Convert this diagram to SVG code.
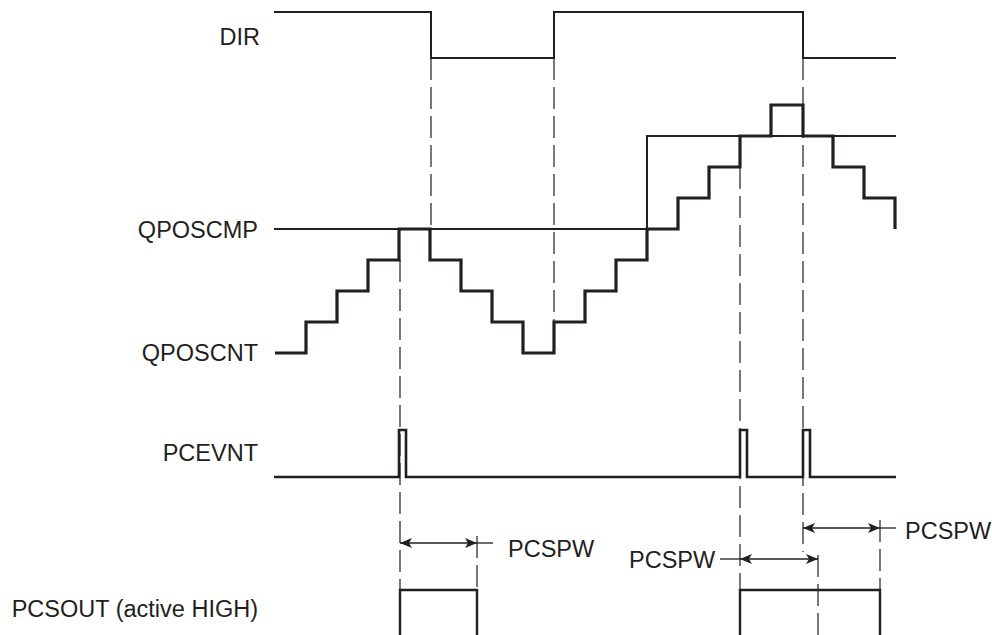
<svg xmlns="http://www.w3.org/2000/svg" width="992" height="635" viewBox="0 0 992 635">
<style>
.lbl{font-family:"Liberation Sans",Arial,sans-serif;font-size:23.5px;fill:#231f20}
.sig{fill:none;stroke:#231f20;stroke-width:2;stroke-linejoin:miter;stroke-linecap:butt}
.thick{fill:none;stroke:#231f20;stroke-width:3.2;stroke-linejoin:miter}
.dash{fill:none;stroke:#231f20;stroke-width:1.2;stroke-dasharray:22 7}
.dim{fill:none;stroke:#231f20;stroke-width:1.3}
</style>
<defs>
<marker id="ah" viewBox="0 0 12 10" refX="12" refY="5" markerWidth="12" markerHeight="10" markerUnits="userSpaceOnUse" orient="auto-start-reverse">
<path d="M0,0 L12,5 L0,10 L3,5 Z" fill="#231f20"/>
</marker>
</defs>
<rect width="992" height="635" fill="#ffffff"/>
<g id="labels">
<text class="lbl" x="260" y="45" text-anchor="end">DIR</text>
<text class="lbl" x="258" y="238" text-anchor="end">QPOSCMP</text>
<text class="lbl" x="258" y="361" text-anchor="end">QPOSCNT</text>
<text class="lbl" x="258" y="461" text-anchor="end">PCEVNT</text>
<text class="lbl" x="258" y="617" text-anchor="end">PCSOUT (active HIGH)</text>
</g>
<g id="DIR">
<polyline class="sig" points="274,12 431,12 431,58 554,58 554,12 803,12 803,58 896,58"/>
</g>
<g id="QPOSCMP">
<polyline class="sig" points="274,229 647,229 647,136 896,136"/>
</g>
<g id="QPOSCNT">
<polyline class="thick" points="275,353 306,353 306,322 337,322 337,291 368,291 368,260 399,260 399,229 430,229 430,260 461,260 461,291 492,291 492,322 523,322 523,353 554,353 554,322 585,322 585,291 616,291 616,260 647,260 647,229 678,229 678,198 709,198 709,167 740,167 740,136 771,136 771,105 803,105 803,136 833,136 833,167 864,167 864,198 895,198 895,229"/>
</g>
<g id="PCEVNT">
<polyline class="thick" style="stroke-width:2.6" points="274,477 399,477 399,430 406,430 406,477 740,477 740,430 747,430 747,477 803,477 803,430 810,430 810,477 896,477"/>
</g>
<g id="PCSOUT">
<polyline class="sig" style="stroke-width:2.4" points="400,635 400,590 477,590 477,635"/>
<polyline class="sig" style="stroke-width:2.4" points="740,635 740,590 880,590 880,635"/>
</g>
<g id="connectors">
<line class="dash" x1="431" y1="58" x2="431" y2="229"/>
<line class="dash" x1="554" y1="58" x2="554" y2="322"/>
<line class="dash" x1="400" y1="260" x2="400" y2="590"/>
<line class="dash" x1="740" y1="167" x2="740" y2="590"/>
<line class="dash" x1="803" y1="58" x2="803" y2="552"/>
<line class="dash" x1="477" y1="536" x2="477" y2="590"/>
<line class="dash" x1="818" y1="555" x2="818" y2="635"/>
<line class="dash" x1="880" y1="520" x2="880" y2="590"/>
<line class="dim" x1="400" y1="543" x2="477" y2="543" marker-start="url(#ah)" marker-end="url(#ah)"/>
<line class="dim" x1="477" y1="543" x2="493" y2="543"/>
<line class="dim" x1="740" y1="559" x2="818" y2="559" marker-start="url(#ah)" marker-end="url(#ah)"/>
<line class="dim" x1="720" y1="559" x2="740" y2="559"/>
<line class="dim" x1="803" y1="528" x2="880" y2="528" marker-start="url(#ah)" marker-end="url(#ah)"/>
<line class="dim" x1="880" y1="528" x2="896" y2="528"/>
</g>
<g id="PCSPW-labels">
<text class="lbl" x="508" y="557">PCSPW</text>
<text class="lbl" x="629" y="568">PCSPW</text>
<text class="lbl" x="905" y="539">PCSPW</text>
</g>
</svg>
